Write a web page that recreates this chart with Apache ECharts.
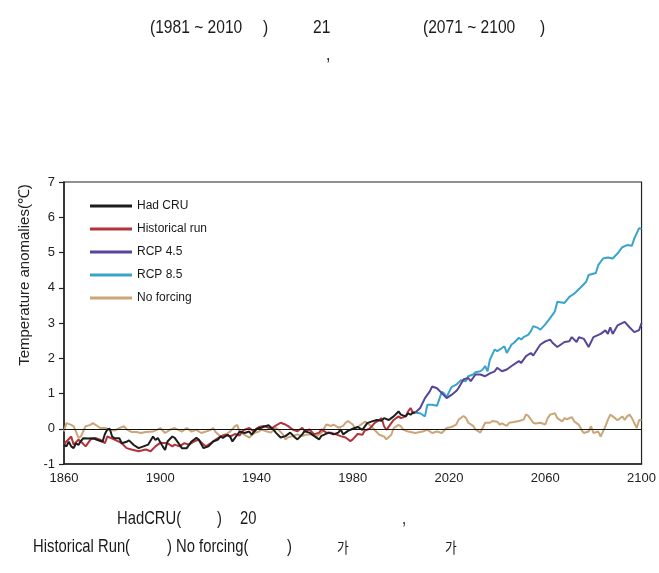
<!DOCTYPE html>
<html><head><meta charset="utf-8">
<script src="https://cdn.jsdelivr.net/npm/echarts@6/dist/echarts.min.js"></script>
<style>html,body{margin:0;padding:0;background:#fff}#c{width:659px;height:573px}</style>
</head><body><div id="c"></div>
<script>
const seriesNames = ['Had CRU', 'Historical run', 'RCP 4.5', 'RCP 8.5', 'No forcing'];
const xTicks = [1860, 1900, 1940, 1980, 2020, 2060, 2100];

const hadYears = [1860,1861,1862,1863,1864,1865,1866,1867,1868,1870,1872,1874,1876,1877,1878,1879,1880,1881,1883,1884,1886,1887,1889,1891,1893,1895,1897,1898,1899,1901,1902,1903,1905,1906,1908,1909,1911,1913,1915,1916,1918,1920,1922,1924,1925,1926,1928,1929,1930,1932,1933,1935,1937,1938,1940,1942,1944,1945,1947,1948,1950,1952,1954,1956,1957,1959,1960,1962,1964,1966,1967,1970,1972,1974,1975,1976,1978,1980,1982,1984,1986,1988,1990,1992,1993,1995,1996,1997,1999,2000,2002,2003,2004,2005,2006];
const hadValues = [-0.45,-0.5,-0.37,-0.5,-0.55,-0.41,-0.46,-0.35,-0.27,-0.28,-0.27,-0.32,-0.37,-0.15,-0.02,0.0,-0.22,-0.27,-0.27,-0.41,-0.37,-0.33,-0.46,-0.55,-0.5,-0.45,-0.22,-0.32,-0.26,-0.5,-0.6,-0.36,-0.22,-0.26,-0.45,-0.55,-0.55,-0.36,-0.26,-0.31,-0.55,-0.5,-0.36,-0.31,-0.22,-0.26,-0.17,-0.22,-0.36,-0.17,-0.08,-0.12,-0.08,-0.17,0.0,0.03,0.08,0.1,-0.02,-0.11,-0.25,-0.21,-0.11,-0.25,-0.3,-0.16,-0.07,-0.11,-0.21,-0.3,-0.2,-0.11,-0.16,-0.11,-0.02,-0.16,-0.06,0.0,0.05,-0.03,0.16,0.21,0.25,0.23,0.3,0.25,0.3,0.35,0.49,0.4,0.35,0.44,0.4,0.46,0.46];

const histYears = [1860,1861,1863,1864,1866,1867,1869,1871,1873,1875,1877,1878,1881,1884,1886,1888,1891,1894,1896,1898,1900,1903,1905,1906,1908,1910,1912,1914,1916,1918,1919,1921,1923,1925,1927,1929,1931,1933,1934,1935,1937,1939,1941,1943,1946,1948,1950,1952,1953,1955,1957,1959,1960,1962,1964,1966,1967,1969,1971,1973,1975,1977,1979,1980,1982,1984,1985,1987,1989,1991,1992,1993,1994,1996,1997,1999,2000,2002,2003,2004,2005,2006];
const histValues = [-0.45,-0.36,-0.22,-0.45,-0.31,-0.36,-0.5,-0.31,-0.26,-0.31,-0.41,-0.22,-0.31,-0.41,-0.55,-0.59,-0.64,-0.59,-0.64,-0.5,-0.4,-0.41,-0.5,-0.45,-0.5,-0.41,-0.45,-0.36,-0.31,-0.45,-0.5,-0.41,-0.31,-0.22,-0.17,-0.22,-0.15,-0.19,-0.08,-0.03,0.02,-0.08,0.05,0.08,0.0,0.09,0.17,0.12,0.08,-0.02,-0.07,0.03,-0.07,-0.02,-0.16,-0.11,-0.02,-0.11,-0.11,-0.16,-0.21,-0.25,-0.35,-0.3,-0.15,-0.17,-0.05,0.0,0.16,0.25,0.3,0.07,-0.03,0.16,0.25,0.35,0.3,0.35,0.49,0.59,0.44,0.46];

const rcp45Years = [2006,2008,2010,2012,2013,2015,2017,2019,2021,2023,2024,2026,2028,2029,2031,2033,2035,2037,2039,2040,2042,2044,2045,2046,2049,2050,2052,2054,2055,2057,2058,2060,2062,2063,2065,2068,2070,2071,2073,2074,2076,2078,2080,2083,2085,2086,2087,2088,2090,2093,2095,2097,2099,2100];
const rcp45Values = [0.46,0.59,0.87,1.06,1.2,1.15,1.01,0.87,0.96,1.07,1.16,1.4,1.44,1.35,1.54,1.54,1.49,1.57,1.63,1.73,1.63,1.68,1.73,1.78,1.92,1.87,2.06,2.15,2.08,2.29,2.39,2.48,2.53,2.44,2.32,2.46,2.48,2.6,2.46,2.6,2.55,2.32,2.6,2.69,2.79,2.69,2.88,2.69,2.93,3.03,2.88,2.74,2.8,3.0];

const rcp85Years = [2006,2008,2010,2011,2013,2015,2017,2018,2019,2021,2023,2025,2027,2028,2030,2031,2033,2034,2035,2036,2037,2039,2040,2042,2043,2044,2046,2047,2049,2050,2051,2053,2054,2055,2057,2058,2060,2062,2064,2065,2068,2070,2072,2075,2077,2078,2081,2082,2084,2086,2088,2090,2092,2094,2096,2097,2099,2100];
const rcp85Values = [0.46,0.44,0.35,0.68,0.68,0.65,1.05,1.0,0.9,1.18,1.25,1.38,1.35,1.49,1.54,1.6,1.63,1.68,1.78,1.63,1.96,2.25,2.2,2.29,2.34,2.15,2.39,2.44,2.58,2.53,2.6,2.67,2.77,2.91,2.86,2.81,2.96,3.14,3.33,3.6,3.57,3.74,3.83,4.03,4.17,4.36,4.42,4.64,4.83,4.86,4.83,4.97,5.15,5.21,5.19,5.4,5.69,5.67];

const noForcingYears = [1860,1861,1863,1864,1865,1866,1867,1869,1871,1872,1874,1875,1877,1879,1881,1883,1885,1886,1888,1890,1892,1894,1897,1900,1902,1904,1906,1909,1911,1913,1915,1917,1919,1921,1922,1923,1925,1927,1929,1931,1932,1933,1935,1937,1939,1941,1942,1944,1946,1948,1949,1951,1952,1953,1955,1957,1959,1961,1964,1965,1967,1969,1971,1972,1974,1976,1977,1978,1980,1981,1983,1985,1987,1989,1991,1993,1994,1996,1997,1999,2000,2001,2003,2006,2009,2011,2013,2015,2017,2019,2021,2023,2024,2026,2027,2028,2030,2031,2033,2034,2035,2037,2038,2040,2041,2042,2044,2045,2047,2049,2051,2052,2053,2055,2056,2058,2060,2061,2062,2064,2065,2067,2068,2069,2071,2072,2074,2075,2076,2078,2079,2080,2082,2083,2085,2086,2087,2089,2090,2092,2093,2094,2095,2096,2098,2099,2100];
const noForcingValues = [-0.08,0.16,0.11,0.07,-0.08,-0.26,-0.22,0.07,0.11,0.16,0.07,0.02,0.02,-0.03,-0.05,0.02,0.07,-0.02,-0.09,-0.09,-0.12,-0.09,-0.08,0.02,-0.12,-0.03,0.02,-0.08,0.02,-0.08,-0.03,-0.12,-0.08,-0.03,0.02,-0.09,-0.22,-0.17,-0.08,0.07,0.11,-0.09,-0.17,-0.25,-0.12,-0.08,-0.02,-0.07,-0.11,0.03,-0.02,-0.16,-0.3,-0.25,-0.21,-0.16,-0.21,-0.16,-0.16,-0.21,-0.11,0.12,0.08,0.12,0.03,0.08,0.17,0.22,0.12,0.0,0.1,0.2,0.11,-0.03,-0.17,-0.22,-0.3,-0.17,0.02,0.11,0.07,-0.03,-0.08,-0.12,-0.08,-0.03,-0.12,-0.08,-0.12,0.02,0.05,0.12,0.26,0.36,0.31,0.17,0.08,-0.02,-0.11,0.03,0.17,0.17,0.22,0.2,0.12,0.15,0.08,0.17,0.19,0.22,0.26,0.41,0.36,0.17,0.15,0.17,0.12,0.3,0.4,0.44,0.3,0.21,0.3,0.27,0.33,0.21,0.11,-0.03,-0.12,-0.08,0.07,-0.12,-0.08,-0.22,0.07,0.25,0.4,0.3,0.24,0.35,0.25,0.35,0.4,0.3,0.02,0.25,0.25];

const colors = { had: '#1c1c1c', hist: '#b2333a', rcp45: '#58449a', rcp85: '#38a3cb', nof: '#caa679' };

function pairs(ys, vs) { return ys.map((y, i) => [y, vs[i]]); }

const chart = echarts.init(document.getElementById('c'), null, { renderer: 'canvas' });

const sans = '"Liberation Sans", Arial, sans-serif';

function txt(text, x, y, size, sx, fam) {
  return { type: 'text', x: x, y: y, scaleX: sx, silent: true,
    style: { text: text, fontSize: size, fontFamily: fam || sans, fill: '#1a1a1a', align: 'left', verticalAlign: 'middle' } };
}

const lineBase = { type: 'line', showSymbol: false, symbol: 'none', smooth: false, lineStyle: { width: 2 } };
const cjk = '"Noto Sans CJK KR", sans-serif';

chart.setOption({
  animation: false,
  backgroundColor: '#fff',
  grid: { left: 64, right: 15, top: 182, bottom: 109, show: true, borderColor: '#222', borderWidth: 1.2, backgroundColor: 'transparent' },
  xAxis: {
    type: 'value', min: xTicks[0], max: xTicks[xTicks.length - 1], interval: 40,
    axisLine: { show: true, onZero: false, lineStyle: { color: '#222', width: 1.5 } },
    axisTick: { show: false },
    splitLine: { show: false },
    axisLabel: { color: '#222', fontSize: 13, fontFamily: sans, margin: 8, formatter: v => String(v) }
  },
  yAxis: {
    type: 'value', min: -1, max: 7, interval: 1,
    name: 'Temperature anomalies(℃)', nameLocation: 'middle', nameGap: 28, nameRotate: 90,
    nameTextStyle: { color: '#222', fontSize: 15, fontFamily: sans, padding: [0, 0, 0, 96] },
    axisLine: { show: true, lineStyle: { color: '#222', width: 1.5 } },
    axisTick: { show: true, inside: false, length: 5, lineStyle: { color: '#222', width: 1.2 } },
    splitLine: { show: false },
    axisLabel: { color: '#222', fontSize: 13, fontFamily: sans, margin: 9 }
  },
  legend: {
    data: seriesNames, orient: 'vertical', left: 85, top: 194,
    icon: 'rect', itemWidth: 42, itemHeight: 3, itemGap: 9,
    textStyle: { fontSize: 12, fontFamily: sans, color: '#1a1a1a', lineHeight: 14 }
  },
  series: [
    Object.assign({}, lineBase, { name: 'No forcing', color: colors.nof, data: pairs(noForcingYears, noForcingValues),
      markLine: { silent: true, symbol: 'none', label: { show: false }, lineStyle: { color: '#111', width: 1.2, type: 'solid' }, data: [{ yAxis: 0 }] } }),
    Object.assign({}, lineBase, { name: 'Historical run', color: colors.hist, data: pairs(histYears, histValues) }),
    Object.assign({}, lineBase, { name: 'Had CRU', color: colors.had, data: pairs(hadYears, hadValues) }),
    Object.assign({}, lineBase, { name: 'RCP 8.5', color: colors.rcp85, data: pairs(rcp85Years, rcp85Values) }),
    Object.assign({}, lineBase, { name: 'RCP 4.5', color: colors.rcp45, data: pairs(rcp45Years, rcp45Values) })
  ],
  graphic: [
    txt('(1981 ~ 2010', 150, 28, 19, 0.82),
    txt(')', 263, 28, 19, 0.82),
    txt('21', 313, 28, 19, 0.82),
    txt('(2071 ~ 2100', 423, 28, 19, 0.82),
    txt(')', 540, 28, 19, 0.82),
    txt(',', 326, 55, 19, 0.82),
    txt('HadCRU(', 117, 519, 18.5, 0.8),
    txt(')', 217, 519, 18.5, 0.8),
    txt('20', 240, 519, 18.5, 0.8),
    txt(',', 402, 519, 18.5, 0.8),
    txt('Historical Run(', 33, 547, 18.5, 0.8),
    txt(') No forcing(', 167, 547, 18.5, 0.8),
    txt(')', 287, 547, 18.5, 0.8),
    txt('가', 337, 547, 15, 0.85, cjk),
    txt('가', 445, 547, 15, 0.85, cjk)
  ]
});
</script></body></html>
